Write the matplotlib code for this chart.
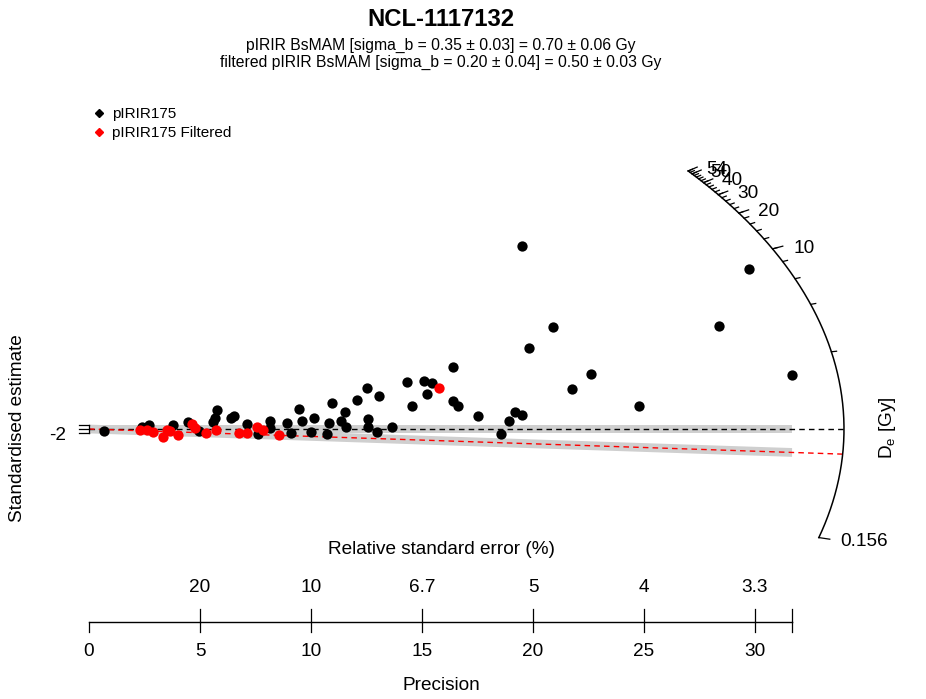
import numpy as np
import matplotlib.pyplot as plt
from matplotlib.lines import Line2D

plt.rcParams["font.family"] = ["Liberation Sans", "DejaVu Sans"]

title = "NCL-1117132"
subtitles = ["pIRIR BsMAM [sigma_b = 0.35 ± 0.03] = 0.70 ± 0.06 Gy",
             "filtered pIRIR BsMAM [sigma_b = 0.20 ± 0.04] = 0.50 ± 0.03 Gy"]
series_names = ["pIRIR175", "pIRIR175 Filtered"]

# precision (1/se) and standardised estimate
prec_all = [0.68, 2.39, 2.70, 3.78, 4.46, 4.95, 5.59, 5.68, 5.77, 6.40,
            6.53, 7.12, 7.61, 8.15, 8.15, 8.92, 9.10, 9.46, 9.59, 10.00,
            10.14, 10.72, 10.81, 10.95, 11.35, 11.53, 11.58, 12.07, 12.52, 12.57,
            12.57, 12.97, 13.06, 13.65, 14.32, 14.55, 15.09, 15.23, 15.45, 16.40,
            16.40, 16.62, 17.52, 18.56, 18.92, 19.19, 19.50, 19.50, 19.82, 20.90,
            21.76, 22.61, 24.77, 28.38, 29.73, 31.67]
z_all = [-0.9, 0.9, 1.8, 1.8, 3.2, -0.9, 3.2, 5.0, 8.6, 5.0,
         5.9, 2.3, -2.3, 3.6, 0.5, 2.7, -1.8, 9.1, 3.6, -1.4,
         5.0, -2.3, 2.7, 11.8, 3.6, 7.7, 0.9, 13.2, 18.6, 4.5,
         0.9, -1.4, 15.0, 0.9, 21.4, 10.5, 21.8, 15.9, 20.9, 28.2,
         12.7, 10.5, 5.9, -2.3, 3.6, 7.7, 6.4, 83.2, 36.8, 46.4,
         18.2, 25.0, 10.5, 46.8, 72.7, 24.5]

prec_filt = [2.30, 2.61, 2.88, 3.33, 3.51, 3.65, 4.01, 4.64, 4.77, 5.27,
             5.72, 6.76, 7.12, 7.57, 7.84, 8.56, 15.77]
z_filt = [-0.5, -0.5, -1.4, -3.6, -0.5, -0.9, -2.7, 2.3, 0.5, -1.8,
          -0.5, -1.8, -1.8, 0.9, -0.5, -2.7, 18.6]

de_central = 0.70
de_central_filt = 0.50
de_limits = [0.156, 54]
de_major = [10, 20, 30, 40, 50]
de_minor = list(range(2, 56, 2))
prec_ticks = [0, 5, 10, 15, 20, 25, 30]
z_ticks = [-2, 0, 2]

# ---- geometry (pixels of a 926 x 699 canvas) ----
W, H = 926, 699
X0, Y0 = 89, 429          # pixel position of the origin
PX_X, PX_Y = 22.2, 2.2    # pixels per precision unit / per z unit
ARC_R_PX, ARC_ASPECT = 755, 1.78
FS = 13.7

fig = plt.figure(figsize=(W / 100, H / 100), dpi=100)
ax = fig.add_axes([0, 0, 1, 1])
ax.set_xlim(-X0 / PX_X, (W - X0) / PX_X)
ax.set_ylim(-(H - Y0) / PX_Y, Y0 / PX_Y)
ax.axis("off")

def fx(px):
    return px / W

def fy(py):
    return 1 - py / H

r = ARC_R_PX / PX_X
f = ARC_ASPECT * PX_Y / PX_X

def arc_xy(de, scale=1.0):
    s = np.log(np.asarray(de, dtype=float) / de_central)
    x = r / np.sqrt(1 + (f * s) ** 2)
    return scale * x, scale * s * x

pmax = max(prec_all)
slope_filt = np.log(de_central_filt / de_central)

# 2-sigma bands
ax.fill([0, pmax, pmax, 0], [-2, -2, 2, 2], color="#cfcfcf", lw=0, zorder=1)
ax.fill([0, pmax, pmax, 0],
        [-2, slope_filt * pmax - 2, slope_filt * pmax + 2, 2],
        color="#cfcfcf", lw=0, zorder=1)

# central lines
xe, ye = arc_xy(de_central)
ax.plot([0, xe], [0, ye], color="black", lw=1, ls=(0, (4, 3)), zorder=2)
xe, ye = arc_xy(de_central_filt)
ax.plot([0, xe], [0, ye], color="red", lw=1, ls=(0, (4, 3)), zorder=2)

# De arc
vals = np.exp(np.linspace(np.log(de_limits[0]), np.log(de_limits[1]), 400))
ax.plot(*arc_xy(vals), color="black", lw=1.1, zorder=2)
for v in de_minor:
    x1, y1 = arc_xy(v)
    x2, y2 = arc_xy(v, 1.007)
    ax.plot([x1, x2], [y1, y2], color="black", lw=0.9)
for v in de_major + de_limits:
    x1, y1 = arc_xy(v)
    x2, y2 = arc_xy(v, 1.015)
    ax.plot([x1, x2], [y1, y2], color="black", lw=0.9)
    lx, _ = arc_xy(v, 1.03)
    ax.text(lx, y2, f"{v:g}", ha="left", va="center_baseline", fontsize=FS)

# y axis (R drops the overlapping labels, only -2 survives)
tx = 10 / PX_X
ax.plot([0, 0], [min(z_ticks), max(z_ticks)], color="black", lw=0.9)
for z in z_ticks:
    ax.plot([-tx, 0], [z, z], color="black", lw=0.9)
ax.text(-23 / PX_X, z_ticks[0], f"{z_ticks[0]}", ha="right",
        va="center_baseline", fontsize=FS)

# precision / relative error axis
ya = -(622 - Y0) / PX_Y
ends = prec_ticks + [pmax]
ax.plot([0, pmax], [ya, ya], color="black", lw=1)
for p in ends:
    ax.plot([p, p], [ya, ya - 10 / PX_Y], color="black", lw=0.9)
    if p > 0:
        ax.plot([p, p], [ya, ya + 13 / PX_Y], color="black", lw=0.9)
for p in prec_ticks:
    ax.text(p, -(650 - Y0) / PX_Y, f"{p}", ha="center",
            va="center_baseline", fontsize=FS)
    if p > 0:
        ax.text(p, -(585 - Y0) / PX_Y, f"{round(100 / p, 1):g}",
                ha="center", va="center_baseline", fontsize=FS)

# points
ax.scatter(prec_all, z_all, s=55, color="black", lw=0, zorder=5)
ax.scatter(prec_filt, z_filt, s=55, color="red", lw=0, zorder=6)

# texts
fig.text(fx(441), fy(19), title, ha="center", va="center",
         fontsize=17.2, fontweight="bold")
fig.text(fx(441), fy(45), subtitles[0], ha="center", va="center",
         fontsize=11.3)
fig.text(fx(441), fy(62), subtitles[1], ha="center", va="center",
         fontsize=11.3)
fig.text(fx(441), fy(550), "Relative standard error (%)", ha="center",
         va="center", fontsize=FS)
fig.text(fx(441), fy(686), "Precision", ha="center", va="center", fontsize=FS)
fig.text(fx(18), fy(428), "Standardised estimate", ha="center", va="center",
         rotation=90, fontsize=FS)
fig.text(fx(888), fy(428), r"D$_\mathregular{e}$ [Gy]", ha="center",
         va="center", rotation=90, fontsize=FS)

handles = [Line2D([], [], ls="none", marker="D", ms=4, color=c)
           for c in ["black", "red"]]
ax.legend(handles, series_names, loc="upper left",
          bbox_to_anchor=(fx(94), fy(107)), frameon=False, fontsize=11,
          handlelength=0.6, handletextpad=0.6, labelspacing=0.35,
          borderpad=0, borderaxespad=0)

fig.savefig("out.png", dpi=100)
